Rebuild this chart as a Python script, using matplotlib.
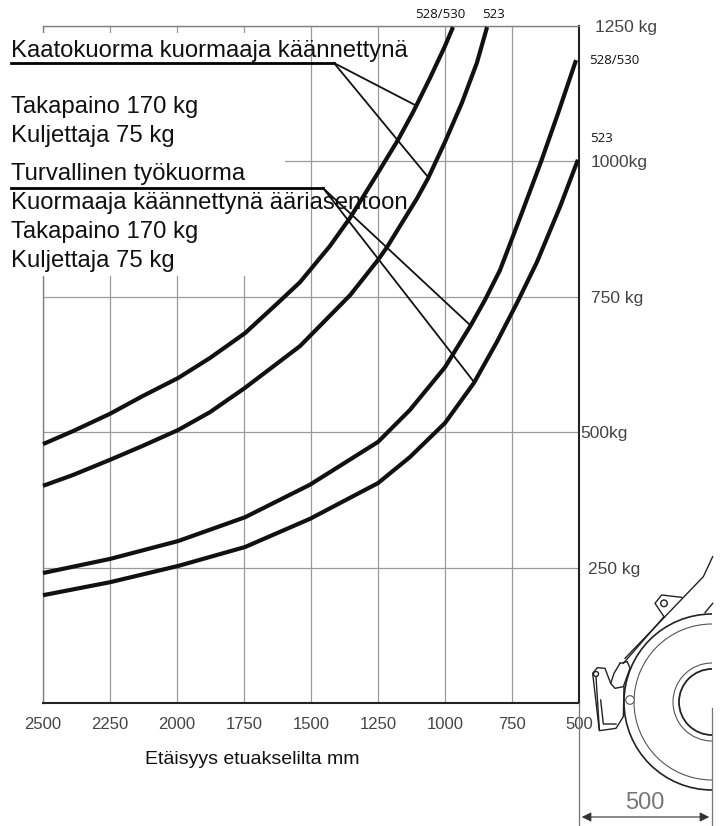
import matplotlib
matplotlib.use("Agg")
import matplotlib.pyplot as plt
from matplotlib.patches import Arc, Circle, Rectangle
from matplotlib.transforms import ScaledTranslation

W, H = 721, 826
plt.rcParams['font.family'] = ['Liberation Sans', 'DejaVu Sans']

# distance from front axle (mm) vs load (kg)
x_tip_528 = [2500, 2388, 2250, 2127, 1996, 1877, 1746, 1623, 1541, 1429, 1354, 1250, 1175, 1119, 1056, 1000, 970]
y_tip_528 = [478, 502, 534, 567, 600, 637, 683, 739, 777, 844, 896, 979, 1040, 1091, 1154, 1213, 1248]
x_tip_523 = [2500, 2388, 2250, 2127, 1996, 1877, 1746, 1541, 1354, 1250, 1216, 1104, 1063, 1000, 937, 881, 843]
y_tip_523 = [401, 421, 449, 475, 504, 537, 582, 659, 753, 818, 842, 932, 969, 1036, 1108, 1182, 1248]
x_safe_528 = [2500, 2250, 1996, 1746, 1504, 1250, 1131, 1000, 903, 851, 795, 720, 642, 578, 511]
y_safe_528 = [240, 266, 299, 343, 403, 482, 541, 620, 698, 744, 799, 896, 999, 1089, 1187]
x_safe_523 = [2500, 2250, 1996, 1746, 1504, 1250, 1131, 1000, 892, 806, 731, 657, 571, 504]
y_safe_523 = [199, 223, 253, 288, 340, 406, 454, 517, 591, 667, 739, 814, 916, 1003]

x_ticks = [2500, 2250, 2000, 1750, 1500, 1250, 1000, 750, 500]
y_ticks = [250, 500, 750, 1000, 1250]
y_labels = ['250 kg', '500kg', '750 kg', '1000kg', '1250 kg']

fig = plt.figure(figsize=(W / 100, H / 100), dpi=100)

# main chart, pixel box 43..579 / 26..703
ax = fig.add_axes([43 / W, 1 - 703 / H, (579 - 43) / W, (703 - 26) / H])
ax.set_xlim(2500, 500)
ax.set_ylim(0, 1250)
ax.set_xticks(x_ticks)
ax.set_xticklabels(x_ticks, fontsize=12, color='#444444')
ax.yaxis.tick_right()
ax.set_yticks(y_ticks)
ax.set_yticklabels(y_labels, fontsize=12.5, color='#444444')
ax.tick_params(length=0, pad=10)
# the printed labels do not line up exactly
for lab, dx in zip(ax.get_yticklabels(), [-5, -13, -2, -2, 2]):
    lab.set_transform(lab.get_transform() + ScaledTranslation(dx / 100, 0, fig.dpi_scale_trans))
ax.grid(True, color='#9a9a9a', lw=0.9)
ax.set_axisbelow(True)
for s in ['top', 'left']:
    ax.spines[s].set_color('#808080')
    ax.spines[s].set_linewidth(1)
for s in ['right', 'bottom']:
    ax.spines[s].set_color('#222222')
    ax.spines[s].set_linewidth(1.5)

for xs, ys in [(x_tip_528, y_tip_528), (x_tip_523, y_tip_523),
               (x_safe_528, y_safe_528), (x_safe_523, y_safe_523)]:
    ax.plot(xs, ys, color='#111111', lw=3.0, solid_joinstyle='round',
            solid_capstyle='butt', zorder=5, clip_on=False)

# overlay in picture pixels for the text, leaders and the machine sketch
ov = fig.add_axes([0, 0, 1, 1])
ov.set_xlim(0, W)
ov.set_ylim(H, 0)
ov.axis('off')
ov.patch.set_alpha(0)

# white box hiding the grid behind the legend text
ax.add_patch(Rectangle((0, 33), 285, 243, transform=ov.transData, fc='white', ec='none',
                       zorder=3, clip_on=False))

legend_lines = [
    ('Kaatokuorma kuormaaja käännettynä', 51),
    ('Takapaino 170 kg', 107),
    ('Kuljettaja 75 kg', 136),
    ('Turvallinen työkuorma', 174),
    ('Kuormaaja käännettynä ääriasentoon', 203),
    ('Takapaino 170 kg', 232),
    ('Kuljettaja 75 kg', 261),
]
for txt, yy in legend_lines:
    ov.text(11, yy, txt, fontsize=17.2, color='#111111', va='center', ha='left')

ov.text(252, 760, 'Etäisyys etuakselilta mm', fontsize=14, color='#111111', ha='center', va='center')

small = [('528/530', 415, 15), ('523', 482, 15), ('528/530', 589, 60), ('523', 590, 139)]
for txt, xx, yy in small:
    ov.text(xx, yy, txt, fontsize=9.5, family='Open Sans', color='#111111', va='center', ha='left')

# leaders
ov.plot([11, 334], [63, 63], color='k', lw=2.0)
ov.plot([11, 323], [188, 188], color='k', lw=2.0)
for x1, y1 in [(415, 105), (428, 177)]:
    ov.plot([334, x1], [63, y1], color='#111111', lw=1.3)
for x1, y1 in [(470, 325), (474, 382)]:
    ov.plot([323, x1], [188, y1], color='#111111', lw=1.3)


def z(pts):
    # zoomed crop coordinates to picture pixels
    return [540 + p[0] / 3 for p in pts], [520 + p[1] / 3 for p in pts]


cx, cy = 712, 702
for r, lw, col in [(88, 1.2, '#222222'), (78, 0.8, '#555555'), (39, 0.8, '#555555'), (33, 1.3, '#222222')]:
    ov.add_patch(Arc((cx, cy), 2 * r, 2 * r, theta1=90, theta2=270, color=col, lw=lw))

sketch = [
    [(255, 415), (490, 170), (518, 110)],
    [(250, 430), (372, 290)],
    [(372, 290), (345, 250), (365, 225), (425, 232)],
    [(495, 278), (518, 250)],
    [(240, 430), (262, 425), (270, 445), (250, 500), (225, 505), (212, 490), (222, 460), (240, 430)],
    [(252, 500), (250, 590), (228, 625), (178, 632), (158, 460), (172, 443), (195, 445), (212, 490)],
    [(168, 470), (178, 628)],
    [(182, 540), (190, 612), (228, 612)],
]
for pts in sketch:
    xs, ys = z(pts)
    ov.plot(xs, ys, color='#222222', lw=1.0)
ov.add_patch(Circle((540 + 372 / 3, 520 + 250 / 3), 3.3, fc='white', ec='#222222', lw=1))
ov.add_patch(Circle((540 + 168 / 3, 520 + 462 / 3), 2.5, fc='white', ec='#222222', lw=1))
ov.add_patch(Circle((540 + 270 / 3, 520 + 540 / 3), 4.3, fc='white', ec='#555555', lw=0.8))

# 500 dimension
ov.plot([579, 579], [703, 826], color='#777777', lw=0.9)
ov.plot([712, 712], [708, 826], color='#777777', lw=0.9)
ov.annotate('', xy=(579, 817), xytext=(712, 817),
            arrowprops=dict(arrowstyle='<|-|>', color='#333333', lw=0.8, mutation_scale=14))
ov.text(645, 803, '500', fontsize=17, color='#777777', ha='center', va='center')

fig.savefig('out.png', dpi=100)
